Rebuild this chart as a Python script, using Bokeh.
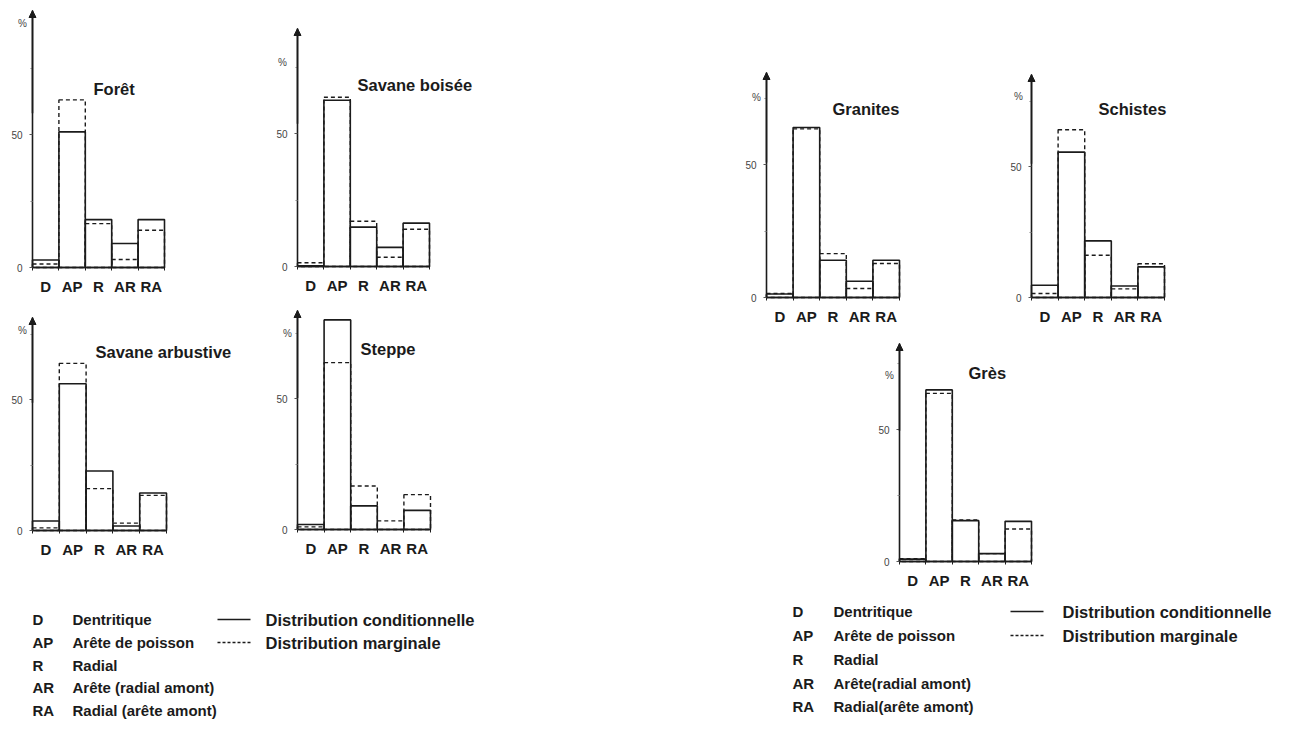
from bokeh.plotting import figure
from bokeh.models import Range1d, FixedTicker, Label, Arrow, NormalHead, Spacer, ColumnDataSource
from bokeh.layouts import row, column
from bokeh.embed import file_html
from bokeh.resources import INLINE
from bokeh.core.properties import value

# ---------------- data (percent per network type) ----------------
categories = ["D", "AP", "R", "AR", "RA"]

foret_cond = [2.8, 51.0, 18.0, 9.0, 18.0]
foret_marg = [1.3, 63.0, 16.5, 3.0, 14.0]

sav_boisee_cond = [0.3, 62.5, 14.8, 7.2, 16.3]
sav_boisee_marg = [1.4, 63.6, 17.0, 3.5, 14.0]

sav_arbustive_cond = [3.6, 56.0, 22.7, 1.7, 14.3]
sav_arbustive_marg = [1.0, 63.8, 16.0, 2.8, 13.4]

steppe_cond = [1.9, 80.0, 9.0, 0.0, 7.3]
steppe_marg = [1.0, 63.7, 16.6, 3.3, 13.3]

granites_cond = [1.3, 63.9, 14.0, 6.1, 14.0]
granites_marg = [1.5, 63.4, 16.5, 3.4, 12.8]

schistes_cond = [4.7, 55.5, 21.6, 4.4, 11.7]
schistes_marg = [1.5, 64.0, 16.1, 3.3, 12.9]

gres_cond = [0.9, 65.0, 15.5, 3.0, 15.2]
gres_marg = [1.1, 63.7, 15.7, 3.0, 12.3]

y_ticks = [0, 50]

legend_abbr = ["D", "AP", "R", "AR", "RA"]
legend_desc_left = ["Dentritique", "Arête de poisson", "Radial", "Arête (radial amont)", "Radial (arête amont)"]
legend_desc_right = ["Dentritique", "Arête de poisson", "Radial", "Arête(radial amont)", "Radial(arête amont)"]
legend_lines = ["Distribution conditionnelle", "Distribution marginale"]

# ---------------- style ----------------
FONT = "Liberation Sans"
INK = "#1b1b1b"


def panel(title, cond, marg, cell, frame, title_pos, pct_pos):
    # cell: (x, y, w, h) page px; frame: (axis x, baseline y, y of 50, arrow tip y, width of 5 bins)
    cx, cy, cw, ch = cell
    fl, baseline, y50, tip, bw = frame
    ppu = (baseline - y50) / 50.0
    ppx = bw / 5.0

    def dx(px):
        return (px - fl) / ppx

    def dy(py):
        return (baseline - py) / ppu

    ytop = dy(tip)
    p = figure(width=cw, height=ch, title=None,
               x_range=Range1d(dx(cx), dx(cx + cw)), y_range=Range1d(dy(cy + ch), dy(cy)),
               min_border_left=0, min_border_top=0, min_border_right=0, min_border_bottom=0,
               toolbar_location=None, output_backend="svg",
               background_fill_color="white", border_fill_color="white",
               outline_line_color=None)
    p.grid.visible = False
    n = len(categories)
    src = ColumnDataSource(dict(left=list(range(n)), right=[i + 1 for i in range(n)],
                                cond=cond, marg=marg))
    p.quad(left="left", right="right", bottom=0, top="marg", source=src,
           fill_color=None, line_color=INK, line_width=1.4, line_dash="4 3")
    p.quad(left="left", right="right", bottom=0, top="cond", source=src,
           fill_color=None, line_color=INK, line_width=1.6)

    centers = [i + 0.5 for i in range(n)]
    xa = p.xaxis[0]
    xa.fixed_location = 0
    xa.bounds = (0, n)
    xa.ticker = FixedTicker(ticks=centers, minor_ticks=list(range(n + 1)))
    xa.major_label_overrides = {c: lab for c, lab in zip(centers, categories)}
    xa.major_tick_out = 0
    xa.major_tick_in = 0
    xa.minor_tick_out = 3
    xa.minor_tick_in = 0
    xa.minor_tick_line_color = INK
    xa.axis_line_width = 1.5
    xa.axis_line_color = INK
    xa.major_label_text_font = FONT
    xa.major_label_text_font_size = "15px"
    xa.major_label_text_font_style = "bold"
    xa.major_label_text_color = INK
    xa.major_label_standoff = 7

    ya = p.yaxis[0]
    ya.fixed_location = 0
    ya.bounds = (0, ytop)
    ya.ticker = FixedTicker(ticks=y_ticks, minor_ticks=[25, 75])
    ya.major_tick_out = 3
    ya.major_tick_in = 0
    ya.minor_tick_out = 2
    ya.minor_tick_in = 0
    ya.major_tick_line_color = "#555555"
    ya.minor_tick_line_color = "#888888"
    ya.axis_line_width = 1.6
    ya.axis_line_color = INK
    ya.major_label_text_font = FONT
    ya.major_label_text_font_size = "10px"
    ya.major_label_text_color = "#444444"
    ya.major_label_standoff = 7

    p.add_layout(Arrow(end=NormalHead(size=7, fill_color=INK, line_color=INK, line_width=1),
                       x_start=0, y_start=ytop * 0.6, x_end=0, y_end=ytop,
                       line_color=INK, line_width=1.6))

    tx, tb = title_pos
    p.add_layout(Label(x=dx(tx), y=dy(tb), text=title,
                       text_font=FONT, text_font_size="16.5px", text_font_style="bold",
                       text_color=INK, text_baseline="alphabetic", text_align="left"))
    px, py = pct_pos
    p.add_layout(Label(x=dx(px), y=dy(py), text="%",
                       text_font=FONT, text_font_size="10px", text_color="#444444",
                       text_baseline="middle", text_align="center"))
    return p


def legend_fig(cell, desc, abbr_x, desc_x, line_x0, line_x1, dist_x, baselines):
    cx, cy, cw, ch = cell
    p = figure(width=cw, height=ch, title=None, x_range=Range1d(0, cw), y_range=Range1d(ch, 0),
               min_border_left=0, min_border_right=0, min_border_top=0, min_border_bottom=0,
               toolbar_location=None, output_backend="svg", outline_line_color=None,
               background_fill_color="white", border_fill_color="white")
    p.axis.visible = False
    p.grid.visible = False
    src = ColumnDataSource(dict(ax=[abbr_x] * len(legend_abbr), dx=[desc_x] * len(desc),
                                y=baselines, abbr=legend_abbr, desc=desc))
    common = dict(text_font=value(FONT), text_font_style="bold",
                  text_color=INK, text_baseline="alphabetic", text_align="left")
    p.text(x="ax", y="y", text="abbr", source=src, text_font_size="15px", **common)
    p.text(x="dx", y="y", text="desc", source=src, text_font_size="15px", **common)
    src2 = ColumnDataSource(dict(x=[dist_x] * 2, y=baselines[:2], t=legend_lines))
    p.text(x="x", y="y", text="t", source=src2, text_font_size="16.5px", **common)
    p.segment(x0=[line_x0], y0=[baselines[0]], x1=[line_x1], y1=[baselines[0]],
              line_color=INK, line_width=1.5)
    p.segment(x0=[line_x0], y0=[baselines[1]], x1=[line_x1], y1=[baselines[1]],
              line_color=INK, line_width=1.3, line_dash="3 2")
    return p


# panels: cell (page x, y, w, h), frame (axis x, baseline y, y of 50, arrow tip y, 5-bin width)
p1 = panel("Forêt", foret_cond, foret_marg, (0, 0, 260, 300), (32, 267, 134, 10, 132), (93, 88), (22, 23))
p2 = panel("Savane boisée", sav_boisee_cond, sav_boisee_marg, (260, 0, 230, 300), (297, 266, 133, 28, 132), (357, 84), (282, 62))
p3 = panel("Savane arbustive", sav_arbustive_cond, sav_arbustive_marg, (0, 300, 260, 292), (32, 530, 399, 317, 134), (95, 351), (22, 330))
p4 = panel("Steppe", steppe_cond, steppe_marg, (260, 300, 230, 292), (297, 529, 398, 310, 133), (360, 348), (287, 333))
p5 = panel("Granites", granites_cond, granites_marg, (712, 0, 278, 330), (766, 297, 164, 72, 133), (832, 108), (756, 97))
p6 = panel("Schistes", schistes_cond, schistes_marg, (990, 0, 291, 330), (1031, 297, 166, 74, 133), (1098, 108), (1018, 96))
p7 = panel("Grès", gres_cond, gres_marg, (850, 330, 250, 262), (899, 561, 429, 343, 132), (968, 372), (889, 375))

legL = legend_fig((0, 592, 490, 132), legend_desc_left, 32, 72, 217, 250, 265, [27, 50, 73, 95, 118])
legR = legend_fig((712, 592, 569, 132), legend_desc_right, 80, 121, 298, 331, 350, [19, 43, 67, 91, 114])

left_col = column(row(p1, p2), row(p3, p4), legL)
right_col = column(row(p5, p6),
                   row(Spacer(width=138, height=262), p7, Spacer(width=181, height=262)),
                   legR)
root = row(left_col, Spacer(width=222, height=724), right_col)

open("out.html", "w").write(file_html(root, INLINE))
